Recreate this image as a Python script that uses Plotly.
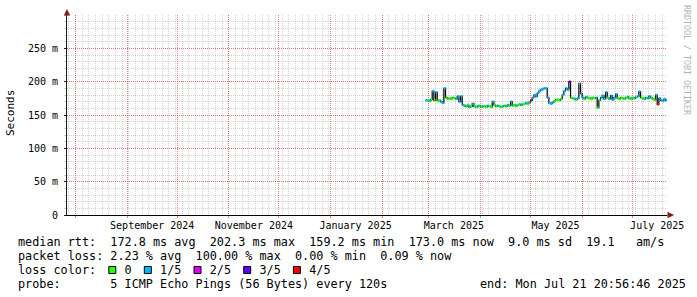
import plotly.graph_objects as go
import pandas as pd

# ---------------- data ----------------
END = pd.Timestamp("2025-07-21 20:56:46")
START = END - pd.Timedelta(days=360)
DATA_START = "2025-02-27"

median_ms = [
    172, 172, 171, 173, 186, 172, 184, 171, 172, 170,
    168, 190, 176, 174, 175, 174, 176, 175, 174, 178,
    170, 178, 165, 164, 163, 165, 162, 163, 167, 163,
    162, 163, 164, 162, 163, 163, 162, 164, 163, 162,
    170, 165, 163, 164, 163, 162, 163, 164, 163, 165,
    164, 170, 164, 165, 164, 165, 166, 165, 166, 167,
    168, 167, 169, 172, 176, 180, 178, 183, 186, 188,
    189, 190, 190, 176, 168, 167, 169, 171, 173, 173,
    172, 174, 180, 186, 190, 188, 200, 176, 175, 174,
    173, 175, 197, 182, 176, 174, 177, 176, 175, 174,
    176, 175, 176, 161, 172, 176, 179, 174, 184, 176,
    174, 179, 173, 176, 181, 175, 174, 176, 175, 174,
    176, 177, 175, 174, 176, 175, 177, 178, 185, 176,
    175, 174, 176, 175, 178, 176, 174, 173, 180, 166,
    175, 172, 171, 174, 172,
]
loss_class = [
    1, 0, 1, 0, 1, 0, 1, 0, 0, 1,
    1, 1, 0, 0, 0, 0, 0, 0, 1, 1,
    1, 1, 1, 1, 0, 0, 1, 0, 1, 0,
    0, 1, 0, 0, 1, 0, 0, 1, 0, 0,
    1, 0, 0, 1, 0, 0, 1, 0, 0, 1,
    0, 1, 0, 0, 1, 0, 0, 1, 0, 0,
    1, 0, 1, 4, 1, 1, 1, 1, 1, 1,
    1, 1, 1, 1, 1, 1, 1, 0, 0, 0,
    0, 0, 1, 1, 1, 1, 3, 0, 0, 1,
    0, 1, 1, 1, 1, 0, 1, 0, 0, 0,
    0, 0, 1, 0, 0, 1, 1, 1, 1, 0,
    1, 1, 1, 1, 1, 0, 0, 0, 0, 0,
    0, 1, 0, 0, 0, 1, 0, 1, 1, 0,
    0, 1, 0, 1, 1, 0, 0, 0, 1, 4,
    1, 1, 1, 1, 1,
]
loss_colors = ["#26ff00", "#00b8ff", "#dd00ff", "#5e00ff", "#ff0000"]
loss_labels = ["0", "1/5", "2/5", "3/5", "4/5"]

month_starts = pd.date_range("2024-08-01", "2025-07-01", freq="MS")
label_dates = ["2024-09-16", "2024-11-16", "2025-01-16",
               "2025-03-16", "2025-05-16", "2025-07-16"]
label_text = ["September 2024", "November 2024", "January 2025",
              "March 2025", "May 2025", "July 2025"]

y_tickvals = [0, 50, 100, 150, 200, 250]
y_ticktext = ["0", "50 m", "100 m", "150 m", "200 m", "250 m"]

legend_rtt = "median rtt:  172.8 ms avg  202.3 ms max  159.2 ms min  173.0 ms now  9.0 ms sd  19.1   am/s"
legend_loss = "packet loss: 2.23 % avg  100.00 % max  0.00 % min  0.09 % now"
legend_probe = "probe:       5 ICMP Echo Pings (56 Bytes) every 120s"
legend_end = "end: Mon Jul 21 20:56:46 2025"

# ---------------- layout constants ----------------
W, H = 697, 297
L, R, T, B = 67, 30, 15, 82
PW, PH = W - L - R, H - T - B
MONO = "DejaVu Sans Mono"
GRID = "rgba(143,143,143,0.38)"
MGRID = "rgba(222,79,79,0.7)"
ARROW = "#801f1f"
AXIS = "#1f1f1f"
CHW = 7.1          # legend char advance
LEG_FS = 11.8


def px(xp):
    return (xp - L) / PW


def py(yp):
    return (T + PH - yp) / PH


times = pd.date_range(DATA_START, periods=len(median_ms) + 1, freq="D")

fig = go.Figure()

# black step line (median) under coloured segments
fig.add_trace(go.Scatter(
    x=times, y=median_ms + [median_ms[-1]], mode="lines",
    line=dict(color="#000000", width=1.2, shape="hv"),
    hoverinfo="skip", showlegend=False, xaxis="x", yaxis="y"))

for c, col in enumerate(loss_colors):
    xs, ys = [], []
    for i, (v, lc) in enumerate(zip(median_ms, loss_class)):
        if lc == c:
            xs += [times[i], times[i + 1], None]
            ys += [v, v, None]
    if xs:
        fig.add_trace(go.Scatter(
            x=xs, y=ys, mode="lines", line=dict(color=col, width=2.5),
            hoverinfo="skip", showlegend=False, xaxis="x2", yaxis="y"))

fig.update_layout(
    width=W, height=H, autosize=False,
    margin=dict(l=L, r=R, t=T, b=B, pad=0),
    paper_bgcolor="#ffffff", plot_bgcolor="#ffffff",
    font=dict(family=MONO, size=10, color="#000000"),
    showlegend=False,
    xaxis=dict(
        type="date", range=[START, END],
        tickmode="array", tickvals=list(month_starts),
        showticklabels=False, ticks="outside", ticklen=2, tickcolor=MGRID,
        showgrid=True, gridcolor=MGRID, griddash="1px,1px", gridwidth=1,
        minor=dict(dtick=4 * 86400000, tick0="2024-07-28",
                   showgrid=True, gridcolor=GRID, griddash="1px,1px",
                   ticks="", gridwidth=1),
        showline=True, linecolor="#000000", linewidth=1,
        zeroline=False, fixedrange=True,
    ),
    xaxis2=dict(
        type="date", range=[START, END], overlaying="x", anchor="y",
        side="bottom",
        tickmode="array", tickvals=label_dates, ticktext=label_text,
        ticks="", showgrid=False, showline=False, zeroline=False,
        tickfont=dict(family=MONO, size=10, color="#000000"),
        ticklabelstandoff=3,
    ),
    yaxis=dict(
        range=[0, 300], tickmode="array", tickvals=y_tickvals,
        ticktext=y_ticktext, ticks="outside", ticklen=2, tickcolor=AXIS,
        showgrid=True, gridcolor=MGRID, griddash="1px,1px", gridwidth=1,
        minor=dict(dtick=10, showgrid=True, gridcolor=GRID,
                   griddash="1px,1px", ticks="outside", ticklen=2,
                   tickcolor=GRID),
        showline=True, linecolor=AXIS, linewidth=1, zeroline=False,
        tickfont=dict(family=MONO, size=10, color="#000000"),
        ticklabelstandoff=4,
    ),
)

ann = []
# axis arrows
ann.append(dict(xref="paper", yref="paper", x=px(L), y=py(T - 6), ax=0, ay=8,
                text="", showarrow=True, arrowhead=2, arrowsize=1.3,
                arrowwidth=1, arrowcolor=ARROW, standoff=0))
ann.append(dict(xref="paper", yref="paper", x=px(L + PW + 7), y=py(T + PH),
                ax=-8, ay=0, text="", showarrow=True, arrowhead=2,
                arrowsize=1.3, arrowwidth=1, arrowcolor=ARROW, standoff=0))
# y-axis title
ann.append(dict(xref="paper", yref="paper", x=px(10), y=py(113),
                text="Seconds", textangle=-90, showarrow=False,
                xanchor="center", yanchor="middle",
                font=dict(family=MONO, size=11, color="#000000")))
# watermark
ann.append(dict(xref="paper", yref="paper", x=px(687), y=py(60),
                text="RRDTOOL / TOBI OETIKER", textangle=90, showarrow=False,
                xanchor="center", yanchor="middle",
                font=dict(family=MONO, size=8.3, color="#b4b4b4")))

# legend lines
leg_x0 = 16
line_y = [241.5, 255.5, 269.5, 283.5]
loss_line = "loss color:  " + "  ".join("# " + lab for lab in loss_labels)
lines = [legend_rtt, legend_loss, loss_line, legend_probe]
shapes = []
for k, txt in enumerate(lines):
    if k == 2:
        idxs = [i for i, ch in enumerate(txt) if ch == "#"]
        for j, i in enumerate(idxs):
            x0 = leg_x0 + i * CHW + 0.5
            shapes.append(dict(type="rect", xref="paper", yref="paper",
                               x0=px(x0), x1=px(x0 + 7),
                               y0=py(line_y[k] + 4), y1=py(line_y[k] - 3),
                               fillcolor=loss_colors[j],
                               line=dict(color="#000000", width=1)))
        txt = txt.replace("#", " ")
    ann.append(dict(xref="paper", yref="paper", x=px(leg_x0), y=py(line_y[k]),
                    text=txt.replace(" ", "\u00a0"), showarrow=False,
                    xanchor="left", yanchor="middle",
                    font=dict(family=MONO, size=LEG_FS, color="#000000")))
ann.append(dict(xref="paper", yref="paper", x=px(478), y=py(line_y[3]),
                text=legend_end.replace(" ", "\u00a0"), showarrow=False,
                xanchor="left", yanchor="middle",
                font=dict(family=MONO, size=LEG_FS, color="#000000")))

fig.update_layout(annotations=ann, shapes=shapes)
fig.write_html("out.html")
